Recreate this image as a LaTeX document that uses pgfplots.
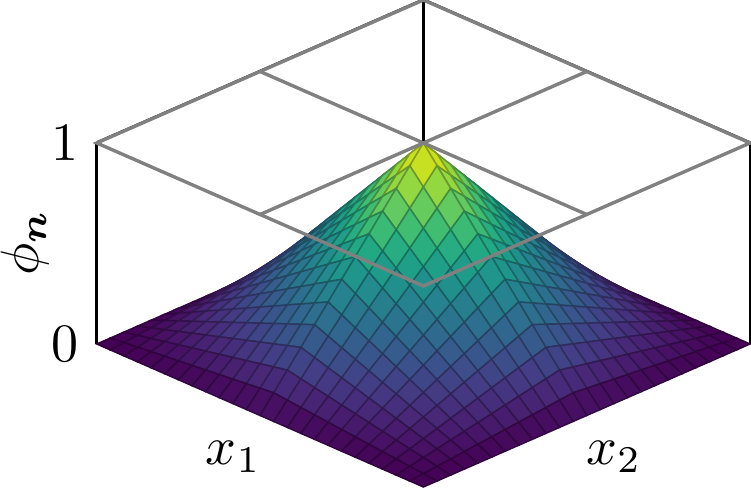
\documentclass[border=0pt]{standalone}
\usepackage{amsmath}
\usepackage{pgfplots}
\pgfplotsset{compat=1.18}
\definecolor{framegray}{HTML}{808080}
\begin{document}
\begin{tikzpicture}[x=1pt,y=1pt]
\path[use as bounding box] (0,0) rectangle (751,488);
\begin{axis}[
  at={(423.4pt,287pt)},anchor=origin,
  x={(13.61pt,-5.958pt)},y={(-13.61pt,-5.958pt)},z={(0pt,201pt)},
  xmin=0,xmax=24,ymin=0,ymax=24,zmin=0,zmax=1,
  hide axis,clip=false,
  colormap/viridis,point meta min=0,point meta max=1,
]
\addplot3[black,line width=2.8pt] coordinates {(0,24,0)(0,24,1)};
\addplot3[black,line width=2.8pt] coordinates {(0,0,0)(0,0,1)};
\addplot3[black,line width=2.8pt] coordinates {(24,0,0)(24,0,1)};
\addplot3[black,line width=1.2pt] coordinates {(0,24,1.006)(0,0,1.006)(24,0,1.006)};
\addplot3[surf,shader=faceted,z buffer=none,mesh/rows=25,mesh/cols=25,line width=1.5pt,faceted color=mapped color!70!black] coordinates {
(0,0,0)(1,0,0)(2,0,0)(3,0,0)(4,0,0)(5,0,0)(6,0,0)(7,0,0)(8,0,0)(9,0,0)(10,0,0)(11,0,0)(12,0,0)(13,0,0)(14,0,0)(15,0,0)(16,0,0)(17,0,0)(18,0,0)(19,0,0)(20,0,0)(21,0,0)(22,0,0)(23,0,0)(24,0,0)
(0,1,0)(1,1,0.0069)(2,1,0.0139)(3,1,0.0208)(4,1,0.0278)(5,1,0.0347)(6,1,0.0417)(7,1,0.0486)(8,1,0.0556)(9,1,0.0625)(10,1,0.0694)(11,1,0.0764)(12,1,0.0833)(13,1,0.0764)(14,1,0.0694)(15,1,0.0625)(16,1,0.0556)(17,1,0.0486)(18,1,0.0417)(19,1,0.0347)(20,1,0.0278)(21,1,0.0208)(22,1,0.0139)(23,1,0.0069)(24,1,0)
(0,2,0)(1,2,0.0139)(2,2,0.0278)(3,2,0.0417)(4,2,0.0556)(5,2,0.0694)(6,2,0.0833)(7,2,0.0972)(8,2,0.1111)(9,2,0.125)(10,2,0.1389)(11,2,0.1528)(12,2,0.1667)(13,2,0.1528)(14,2,0.1389)(15,2,0.125)(16,2,0.1111)(17,2,0.0972)(18,2,0.0833)(19,2,0.0694)(20,2,0.0556)(21,2,0.0417)(22,2,0.0278)(23,2,0.0139)(24,2,0)
(0,3,0)(1,3,0.0208)(2,3,0.0417)(3,3,0.0625)(4,3,0.0833)(5,3,0.1042)(6,3,0.125)(7,3,0.1458)(8,3,0.1667)(9,3,0.1875)(10,3,0.2083)(11,3,0.2292)(12,3,0.25)(13,3,0.2292)(14,3,0.2083)(15,3,0.1875)(16,3,0.1667)(17,3,0.1458)(18,3,0.125)(19,3,0.1042)(20,3,0.0833)(21,3,0.0625)(22,3,0.0417)(23,3,0.0208)(24,3,0)
(0,4,0)(1,4,0.0278)(2,4,0.0556)(3,4,0.0833)(4,4,0.1111)(5,4,0.1389)(6,4,0.1667)(7,4,0.1944)(8,4,0.2222)(9,4,0.25)(10,4,0.2778)(11,4,0.3056)(12,4,0.3333)(13,4,0.3056)(14,4,0.2778)(15,4,0.25)(16,4,0.2222)(17,4,0.1944)(18,4,0.1667)(19,4,0.1389)(20,4,0.1111)(21,4,0.0833)(22,4,0.0556)(23,4,0.0278)(24,4,0)
(0,5,0)(1,5,0.0347)(2,5,0.0694)(3,5,0.1042)(4,5,0.1389)(5,5,0.1736)(6,5,0.2083)(7,5,0.2431)(8,5,0.2778)(9,5,0.3125)(10,5,0.3472)(11,5,0.3819)(12,5,0.4167)(13,5,0.3819)(14,5,0.3472)(15,5,0.3125)(16,5,0.2778)(17,5,0.2431)(18,5,0.2083)(19,5,0.1736)(20,5,0.1389)(21,5,0.1042)(22,5,0.0694)(23,5,0.0347)(24,5,0)
(0,6,0)(1,6,0.0417)(2,6,0.0833)(3,6,0.125)(4,6,0.1667)(5,6,0.2083)(6,6,0.25)(7,6,0.2917)(8,6,0.3333)(9,6,0.375)(10,6,0.4167)(11,6,0.4583)(12,6,0.5)(13,6,0.4583)(14,6,0.4167)(15,6,0.375)(16,6,0.3333)(17,6,0.2917)(18,6,0.25)(19,6,0.2083)(20,6,0.1667)(21,6,0.125)(22,6,0.0833)(23,6,0.0417)(24,6,0)
(0,7,0)(1,7,0.0486)(2,7,0.0972)(3,7,0.1458)(4,7,0.1944)(5,7,0.2431)(6,7,0.2917)(7,7,0.3403)(8,7,0.3889)(9,7,0.4375)(10,7,0.4861)(11,7,0.5347)(12,7,0.5833)(13,7,0.5347)(14,7,0.4861)(15,7,0.4375)(16,7,0.3889)(17,7,0.3403)(18,7,0.2917)(19,7,0.2431)(20,7,0.1944)(21,7,0.1458)(22,7,0.0972)(23,7,0.0486)(24,7,0)
(0,8,0)(1,8,0.0556)(2,8,0.1111)(3,8,0.1667)(4,8,0.2222)(5,8,0.2778)(6,8,0.3333)(7,8,0.3889)(8,8,0.4444)(9,8,0.5)(10,8,0.5556)(11,8,0.6111)(12,8,0.6667)(13,8,0.6111)(14,8,0.5556)(15,8,0.5)(16,8,0.4444)(17,8,0.3889)(18,8,0.3333)(19,8,0.2778)(20,8,0.2222)(21,8,0.1667)(22,8,0.1111)(23,8,0.0556)(24,8,0)
(0,9,0)(1,9,0.0625)(2,9,0.125)(3,9,0.1875)(4,9,0.25)(5,9,0.3125)(6,9,0.375)(7,9,0.4375)(8,9,0.5)(9,9,0.5625)(10,9,0.625)(11,9,0.6875)(12,9,0.75)(13,9,0.6875)(14,9,0.625)(15,9,0.5625)(16,9,0.5)(17,9,0.4375)(18,9,0.375)(19,9,0.3125)(20,9,0.25)(21,9,0.1875)(22,9,0.125)(23,9,0.0625)(24,9,0)
(0,10,0)(1,10,0.0694)(2,10,0.1389)(3,10,0.2083)(4,10,0.2778)(5,10,0.3472)(6,10,0.4167)(7,10,0.4861)(8,10,0.5556)(9,10,0.625)(10,10,0.6944)(11,10,0.7639)(12,10,0.8333)(13,10,0.7639)(14,10,0.6944)(15,10,0.625)(16,10,0.5556)(17,10,0.4861)(18,10,0.4167)(19,10,0.3472)(20,10,0.2778)(21,10,0.2083)(22,10,0.1389)(23,10,0.0694)(24,10,0)
(0,11,0)(1,11,0.0764)(2,11,0.1528)(3,11,0.2292)(4,11,0.3056)(5,11,0.3819)(6,11,0.4583)(7,11,0.5347)(8,11,0.6111)(9,11,0.6875)(10,11,0.7639)(11,11,0.8403)(12,11,0.9167)(13,11,0.8403)(14,11,0.7639)(15,11,0.6875)(16,11,0.6111)(17,11,0.5347)(18,11,0.4583)(19,11,0.3819)(20,11,0.3056)(21,11,0.2292)(22,11,0.1528)(23,11,0.0764)(24,11,0)
(0,12,0)(1,12,0.0833)(2,12,0.1667)(3,12,0.25)(4,12,0.3333)(5,12,0.4167)(6,12,0.5)(7,12,0.5833)(8,12,0.6667)(9,12,0.75)(10,12,0.8333)(11,12,0.9167)(12,12,1)(13,12,0.9167)(14,12,0.8333)(15,12,0.75)(16,12,0.6667)(17,12,0.5833)(18,12,0.5)(19,12,0.4167)(20,12,0.3333)(21,12,0.25)(22,12,0.1667)(23,12,0.0833)(24,12,0)
(0,13,0)(1,13,0.0764)(2,13,0.1528)(3,13,0.2292)(4,13,0.3056)(5,13,0.3819)(6,13,0.4583)(7,13,0.5347)(8,13,0.6111)(9,13,0.6875)(10,13,0.7639)(11,13,0.8403)(12,13,0.9167)(13,13,0.8403)(14,13,0.7639)(15,13,0.6875)(16,13,0.6111)(17,13,0.5347)(18,13,0.4583)(19,13,0.3819)(20,13,0.3056)(21,13,0.2292)(22,13,0.1528)(23,13,0.0764)(24,13,0)
(0,14,0)(1,14,0.0694)(2,14,0.1389)(3,14,0.2083)(4,14,0.2778)(5,14,0.3472)(6,14,0.4167)(7,14,0.4861)(8,14,0.5556)(9,14,0.625)(10,14,0.6944)(11,14,0.7639)(12,14,0.8333)(13,14,0.7639)(14,14,0.6944)(15,14,0.625)(16,14,0.5556)(17,14,0.4861)(18,14,0.4167)(19,14,0.3472)(20,14,0.2778)(21,14,0.2083)(22,14,0.1389)(23,14,0.0694)(24,14,0)
(0,15,0)(1,15,0.0625)(2,15,0.125)(3,15,0.1875)(4,15,0.25)(5,15,0.3125)(6,15,0.375)(7,15,0.4375)(8,15,0.5)(9,15,0.5625)(10,15,0.625)(11,15,0.6875)(12,15,0.75)(13,15,0.6875)(14,15,0.625)(15,15,0.5625)(16,15,0.5)(17,15,0.4375)(18,15,0.375)(19,15,0.3125)(20,15,0.25)(21,15,0.1875)(22,15,0.125)(23,15,0.0625)(24,15,0)
(0,16,0)(1,16,0.0556)(2,16,0.1111)(3,16,0.1667)(4,16,0.2222)(5,16,0.2778)(6,16,0.3333)(7,16,0.3889)(8,16,0.4444)(9,16,0.5)(10,16,0.5556)(11,16,0.6111)(12,16,0.6667)(13,16,0.6111)(14,16,0.5556)(15,16,0.5)(16,16,0.4444)(17,16,0.3889)(18,16,0.3333)(19,16,0.2778)(20,16,0.2222)(21,16,0.1667)(22,16,0.1111)(23,16,0.0556)(24,16,0)
(0,17,0)(1,17,0.0486)(2,17,0.0972)(3,17,0.1458)(4,17,0.1944)(5,17,0.2431)(6,17,0.2917)(7,17,0.3403)(8,17,0.3889)(9,17,0.4375)(10,17,0.4861)(11,17,0.5347)(12,17,0.5833)(13,17,0.5347)(14,17,0.4861)(15,17,0.4375)(16,17,0.3889)(17,17,0.3403)(18,17,0.2917)(19,17,0.2431)(20,17,0.1944)(21,17,0.1458)(22,17,0.0972)(23,17,0.0486)(24,17,0)
(0,18,0)(1,18,0.0417)(2,18,0.0833)(3,18,0.125)(4,18,0.1667)(5,18,0.2083)(6,18,0.25)(7,18,0.2917)(8,18,0.3333)(9,18,0.375)(10,18,0.4167)(11,18,0.4583)(12,18,0.5)(13,18,0.4583)(14,18,0.4167)(15,18,0.375)(16,18,0.3333)(17,18,0.2917)(18,18,0.25)(19,18,0.2083)(20,18,0.1667)(21,18,0.125)(22,18,0.0833)(23,18,0.0417)(24,18,0)
(0,19,0)(1,19,0.0347)(2,19,0.0694)(3,19,0.1042)(4,19,0.1389)(5,19,0.1736)(6,19,0.2083)(7,19,0.2431)(8,19,0.2778)(9,19,0.3125)(10,19,0.3472)(11,19,0.3819)(12,19,0.4167)(13,19,0.3819)(14,19,0.3472)(15,19,0.3125)(16,19,0.2778)(17,19,0.2431)(18,19,0.2083)(19,19,0.1736)(20,19,0.1389)(21,19,0.1042)(22,19,0.0694)(23,19,0.0347)(24,19,0)
(0,20,0)(1,20,0.0278)(2,20,0.0556)(3,20,0.0833)(4,20,0.1111)(5,20,0.1389)(6,20,0.1667)(7,20,0.1944)(8,20,0.2222)(9,20,0.25)(10,20,0.2778)(11,20,0.3056)(12,20,0.3333)(13,20,0.3056)(14,20,0.2778)(15,20,0.25)(16,20,0.2222)(17,20,0.1944)(18,20,0.1667)(19,20,0.1389)(20,20,0.1111)(21,20,0.0833)(22,20,0.0556)(23,20,0.0278)(24,20,0)
(0,21,0)(1,21,0.0208)(2,21,0.0417)(3,21,0.0625)(4,21,0.0833)(5,21,0.1042)(6,21,0.125)(7,21,0.1458)(8,21,0.1667)(9,21,0.1875)(10,21,0.2083)(11,21,0.2292)(12,21,0.25)(13,21,0.2292)(14,21,0.2083)(15,21,0.1875)(16,21,0.1667)(17,21,0.1458)(18,21,0.125)(19,21,0.1042)(20,21,0.0833)(21,21,0.0625)(22,21,0.0417)(23,21,0.0208)(24,21,0)
(0,22,0)(1,22,0.0139)(2,22,0.0278)(3,22,0.0417)(4,22,0.0556)(5,22,0.0694)(6,22,0.0833)(7,22,0.0972)(8,22,0.1111)(9,22,0.125)(10,22,0.1389)(11,22,0.1528)(12,22,0.1667)(13,22,0.1528)(14,22,0.1389)(15,22,0.125)(16,22,0.1111)(17,22,0.0972)(18,22,0.0833)(19,22,0.0694)(20,22,0.0556)(21,22,0.0417)(22,22,0.0278)(23,22,0.0139)(24,22,0)
(0,23,0)(1,23,0.0069)(2,23,0.0139)(3,23,0.0208)(4,23,0.0278)(5,23,0.0347)(6,23,0.0417)(7,23,0.0486)(8,23,0.0556)(9,23,0.0625)(10,23,0.0694)(11,23,0.0764)(12,23,0.0833)(13,23,0.0764)(14,23,0.0694)(15,23,0.0625)(16,23,0.0556)(17,23,0.0486)(18,23,0.0417)(19,23,0.0347)(20,23,0.0278)(21,23,0.0208)(22,23,0.0139)(23,23,0.0069)(24,23,0)
(0,24,0)(1,24,0)(2,24,0)(3,24,0)(4,24,0)(5,24,0)(6,24,0)(7,24,0)(8,24,0)(9,24,0)(10,24,0)(11,24,0)(12,24,0)(13,24,0)(14,24,0)(15,24,0)(16,24,0)(17,24,0)(18,24,0)(19,24,0)(20,24,0)(21,24,0)(22,24,0)(23,24,0)(24,24,0)
};
\addplot3[framegray,line width=3.4pt,line join=miter] coordinates {(0,0,1)(24,0,1)(24,24,1)(0,24,1)(0,0,1)};
\addplot3[framegray,line width=3.4pt] coordinates {(12,0,1)(12,24,1)};
\addplot3[framegray,line width=3.4pt] coordinates {(0,12,1)(24,12,1)};
\end{axis}
\node[inner sep=0pt,scale=5.4] at (65,344.5) {$1$};
\node[inner sep=0pt,scale=5.4] at (65,143.5) {$0$};
\node[inner sep=0pt,scale=5.4,rotate=90] at (25,245) {$\phi_{\boldsymbol{n}}$};
\node[inner sep=0pt,scale=5.4] at (233.5,31) {$x_1$};
\node[inner sep=0pt,scale=5.4] at (614,31) {$x_2$};
\end{tikzpicture}
\end{document}
